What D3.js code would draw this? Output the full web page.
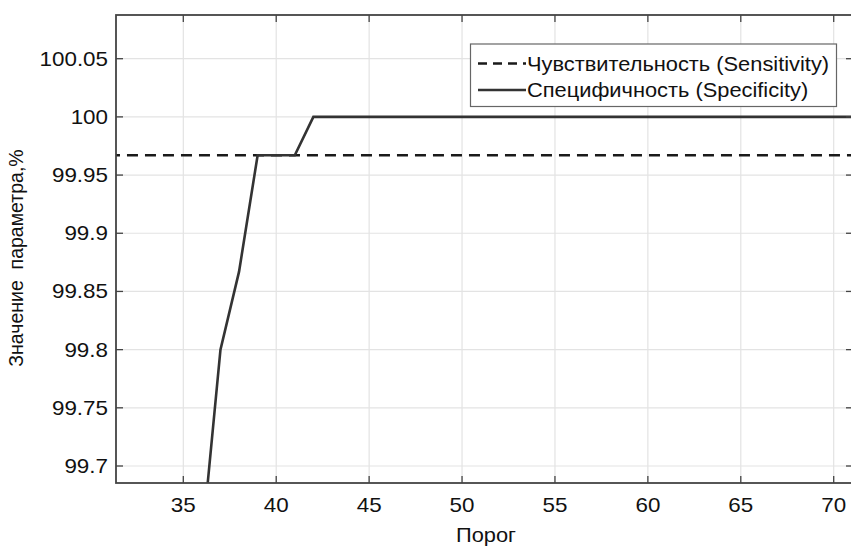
<!DOCTYPE html>
<html>
<head>
<meta charset="utf-8">
<script src="https://cdn.jsdelivr.net/npm/d3@7"></script>
<style>
  body { margin: 0; background: #fff; }
  text { font-family: "Liberation Sans", Arial, sans-serif; fill: #111; }
</style>
</head>
<body>
<div id="chart"></div>
<script>
// data
const thresholds = [35, 36, 37, 38, 39, 40, 41, 42, 43, 45, 50, 55, 60, 65, 70, 71];
const specificity = [99.40, 99.633, 99.8, 99.867, 99.967, 99.967, 99.967, 100, 100, 100, 100, 100, 100, 100, 100, 100];
const sensitivity = [99.967, 99.967];
const sensitivityX = [31, 72];
const xTicks = [35, 40, 45, 50, 55, 60, 65, 70];
const yTicks = [99.7, 99.75, 99.8, 99.85, 99.9, 99.95, 100, 100.05];
const legendLabels = ["Чувствительность (Sensitivity)", "Специфичность (Specificity)"];

const W = 851, H = 547;
const sx = 1.12; // the original picture is a bit stretched sideways

// pixel positions of ticks
const x = d3.scaleLinear().domain([35, 70]).range([183.3, 833.7]);
const y = d3.scaleLinear().domain([99.7, 100.05]).range([466, 58.7]);

const pLeft = 116, pRight = 853, pTop = 15, pBottom = 483;

const svg = d3.select("#chart").append("svg")
    .attr("width", W)
    .attr("height", H);

svg.append("defs").append("clipPath").attr("id", "plot")
    .append("rect")
    .attr("x", pLeft).attr("y", pTop)
    .attr("width", pRight - pLeft).attr("height", pBottom - pTop);

// grid
const grid = svg.append("g");
grid.selectAll(".gx").data(xTicks).enter().append("line")
    .attr("x1", d => x(d)).attr("x2", d => x(d))
    .attr("y1", pTop).attr("y2", pBottom)
    .attr("stroke", "#e3e3e3").attr("stroke-width", 1.2);
grid.selectAll(".gy").data(yTicks).enter().append("line")
    .attr("y1", d => y(d)).attr("y2", d => y(d))
    .attr("x1", pLeft).attr("x2", pRight)
    .attr("stroke", "#e3e3e3").attr("stroke-width", 1.2);

// data lines
const plot = svg.append("g").attr("clip-path", "url(#plot)");

plot.append("path")
    .datum(sensitivityX.map((d, i) => [d, sensitivity[i]]))
    .attr("d", d3.line().x(d => x(d[0])).y(d => y(d[1])))
    .attr("fill", "none")
    .attr("stroke", "#1a1a1a")
    .attr("stroke-width", 2.6)
    .attr("stroke-dasharray", "11,7");

plot.append("path")
    .datum(thresholds.map((d, i) => [d, specificity[i]]))
    .attr("d", d3.line().x(d => x(d[0])).y(d => y(d[1])))
    .attr("fill", "none")
    .attr("stroke", "#333")
    .attr("stroke-width", 2.6);

// axes box with inward ticks
const axisColor = "#444";
const tl = 7;
const ax = svg.append("g");
ax.selectAll(".tb").data(xTicks).enter().append("line")
    .attr("x1", d => x(d)).attr("x2", d => x(d))
    .attr("y1", pBottom).attr("y2", pBottom - tl)
    .attr("stroke", axisColor).attr("stroke-width", 1.3);
ax.selectAll(".tt").data(xTicks).enter().append("line")
    .attr("x1", d => x(d)).attr("x2", d => x(d))
    .attr("y1", pTop).attr("y2", pTop + tl)
    .attr("stroke", axisColor).attr("stroke-width", 1.3);
ax.selectAll(".tlft").data(yTicks).enter().append("line")
    .attr("y1", d => y(d)).attr("y2", d => y(d))
    .attr("x1", pLeft).attr("x2", pLeft + tl)
    .attr("stroke", axisColor).attr("stroke-width", 1.3);
ax.selectAll(".trt").data(yTicks).enter().append("line")
    .attr("y1", d => y(d)).attr("y2", d => y(d))
    .attr("x1", pRight).attr("x2", pRight - tl)
    .attr("stroke", axisColor).attr("stroke-width", 1.3);

ax.append("rect")
    .attr("x", pLeft).attr("y", pTop)
    .attr("width", pRight - pLeft).attr("height", pBottom - pTop)
    .attr("fill", "none")
    .attr("stroke", axisColor)
    .attr("stroke-width", 1.8);

// tick labels
svg.selectAll(".xl").data(xTicks).enter().append("text")
    .attr("transform", d => `translate(${x(d)},512) scale(${sx},1)`)
    .attr("text-anchor", "middle")
    .style("font-size", "20px")
    .text(d => d);

svg.selectAll(".yl").data(yTicks).enter().append("text")
    .attr("transform", d => `translate(108,${y(d) + 7}) scale(${sx},1)`)
    .attr("text-anchor", "end")
    .style("font-size", "20px")
    .text(d => d3.format("~f")(d));

// axis titles
svg.append("text")
    .attr("transform", `translate(486,542) scale(${sx},1)`)
    .attr("text-anchor", "middle")
    .style("font-size", "19.5px")
    .text("Порог");

svg.append("text")
    .attr("transform", "translate(23,258) rotate(-90)")
    .attr("text-anchor", "middle")
    .style("font-size", "19.5px")
    .style("white-space", "pre")
    .text("Значение  параметра,%");

// legend
const legend = svg.append("g");
legend.append("rect")
    .attr("x", 470.5).attr("y", 44)
    .attr("width", 366).attr("height", 62.5)
    .attr("fill", "#fff")
    .attr("stroke", "#666")
    .attr("stroke-width", 1.2);

const rows = legend.selectAll(".row").data(legendLabels).enter().append("g")
    .attr("transform", (d, i) => `translate(0, ${63.5 + i * 26.5})`);

rows.append("line")
    .attr("x1", 478).attr("x2", 526)
    .attr("stroke", (d, i) => i === 0 ? "#1a1a1a" : "#333")
    .attr("stroke-width", 2.4)
    .attr("stroke-dasharray", (d, i) => i === 0 ? "9,6" : null);

rows.append("text")
    .attr("transform", `translate(527,7) scale(${sx},1)`)
    .style("font-size", "19.5px")
    .text(d => d);
</script>
</body>
</html>
